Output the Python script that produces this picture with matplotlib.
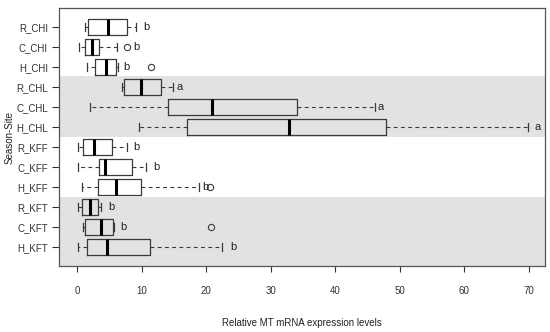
import matplotlib
matplotlib.use("Agg")
import matplotlib.pyplot as plt

# groups, top to bottom as in the figure
groups = ["R_CHI", "C_CHI", "H_CHI", "R_CHL", "C_CHL", "H_CHL",
          "R_KFF", "C_KFF", "H_KFF", "R_KFT", "C_KFT", "H_KFT"]

# box stats
whislo = [1.2, 0.3, 1.55, 7.0, 1.9, 9.6, 0.1, 0.1, 0.8, 0.1, 0.9, 0.1]
q1 = [1.7, 1.15, 2.7, 7.25, 14.1, 17.05, 0.9, 3.4, 3.15, 0.8, 1.2, 1.55]
med = [4.8, 2.25, 4.4, 9.9, 20.9, 32.8, 2.65, 4.35, 6.0, 1.9, 3.7, 4.65]
q3 = [7.75, 3.4, 5.95, 13.0, 34.0, 47.8, 5.45, 8.5, 9.9, 3.2, 5.5, 11.2]
whishi = [9.05, 6.2, 6.3, 14.8, 46.2, 69.8, 7.65, 10.7, 18.8, 3.6, 5.65, 22.5]
fliers = [[], [7.75], [11.4], [], [], [], [], [], [20.6], [], [20.7], []]

# significance letters and where they sit
letters = ["b", "b", "b", "a", "a", "a", "b", "b", "b", "b", "b", "b"]
letter_x = [10.2, 8.7, 7.2, 15.4, 46.6, 70.9, 8.7, 11.7, 19.3, 4.8, 6.7, 23.7]

xticks = [0, 10, 20, 30, 40, 50, 60, 70]

n = len(groups)
pos = [n - i for i in range(n)]

plt.rcParams['font.family'] = ['Liberation Sans Narrow', 'Liberation Sans', 'DejaVu Sans']

fig = plt.figure(figsize=(5.5, 3.32), dpi=100)
ax = fig.add_axes([59 / 550, 66 / 332, 486 / 550, 258 / 332])

ax.set_xlim(-2.84, 72.5)
ax.set_ylim(0.07, 12.93)

# shaded bands for CHL and KFT
ax.axhspan(6.5, 9.55, color="#e2e2e2", zorder=0, lw=0)
ax.axhspan(0.07, 3.5, color="#e2e2e2", zorder=0, lw=0)

stats = []
for i in range(n):
    stats.append(dict(med=med[i], q1=q1[i], q3=q3[i], whislo=whislo[i],
                      whishi=whishi[i], fliers=fliers[i], label=groups[i]))

edge = "#3a3a3a"
ax.bxp(stats, positions=pos, widths=0.8, capwidths=0.4,
       orientation="horizontal", showfliers=True,
       boxprops=dict(color=edge, lw=0.9),
       medianprops=dict(color="black", lw=2.2, solid_capstyle="butt"),
       whiskerprops=dict(color=edge, lw=0.8, linestyle=(0, (3.5, 3))),
       capprops=dict(color=edge, lw=0.9),
       flierprops=dict(marker="o", markersize=4.5, markerfacecolor="none",
                       markeredgecolor=edge, markeredgewidth=0.8))

for i in range(n):
    ax.text(letter_x[i], pos[i], letters[i], ha="left", va="center",
            fontsize=8, family=['Liberation Sans', 'DejaVu Sans'], color="#222222")

ax.set_yticks(pos)
ax.set_yticklabels(groups)
ax.set_xticks(xticks)
ax.tick_params(axis="y", length=5, width=0.8, pad=3, labelsize=7, colors="#333333")
ax.tick_params(axis="x", length=4.5, width=0.8, pad=10, labelsize=7, colors="#333333")

for s in ax.spines.values():
    s.set_color("#555555")
    s.set_linewidth(0.9)

ax.set_xlabel("Relative MT mRNA expression levels", fontsize=7, color="#222222")
ax.set_ylabel("Season-Site", fontsize=7, color="#222222")
ax.xaxis.set_label_coords(0.5, -0.2)
ax.yaxis.set_label_coords(-0.092, 0.5)

fig.savefig("out.png", dpi=100)
